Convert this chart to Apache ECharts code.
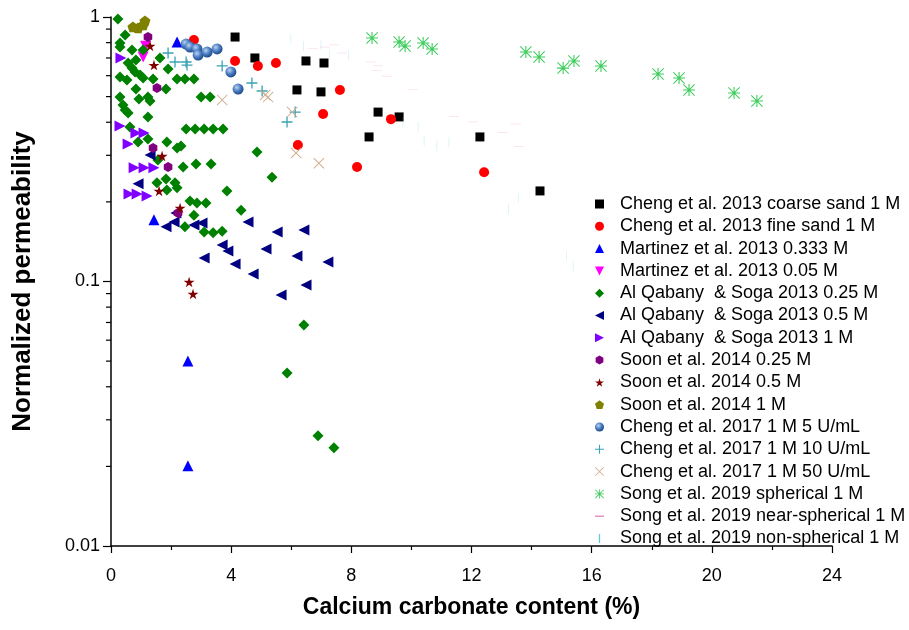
<!DOCTYPE html>
<html><head><meta charset="utf-8">
<script src="https://cdn.jsdelivr.net/npm/echarts@6/dist/echarts.min.js"></script>
<style>html,body{margin:0;padding:0;background:#fff}#c{width:909px;height:630px}</style>
</head><body><div id="c"></div>
<script>
// ---- data (x = CaCO3 content %, y = normalized permeability) ----
const chengCoarse = [[4.13,0.840],[4.79,0.700],[6.19,0.530],[6.49,0.682],[6.99,0.521],[7.09,0.670],[8.89,0.437],[8.59,0.352],[9.59,0.419],[12.28,0.352],[14.28,0.220]];
const chengFine = [[2.76,0.818],[4.13,0.682],[4.89,0.653],[5.49,0.670],[7.62,0.530],[7.06,0.430],[9.32,0.411],[6.22,0.328],[8.19,0.271],[12.42,0.259]];
const martinez333 = [[2.20,0.804],[1.43,0.171],[2.56,0.050],[2.56,0.0201]];
const martinez05 = [[1.07,0.706],[1.15,0.775]];
const alq025 = [[0.23,0.983],[0.47,0.855],[0.30,0.797],[0.30,0.770],[0.70,0.750],[1.07,0.750],[0.83,0.688],[0.57,0.670],[1.63,0.700],[0.70,0.641],[0.80,0.620],[0.97,0.604],[1.90,0.636],[0.30,0.593],[0.53,0.578],[1.07,0.588],[1.40,0.583],[2.20,0.583],[2.46,0.583],[2.76,0.583],[0.83,0.534],[1.83,0.534],[0.30,0.498],[0.93,0.490],[1.23,0.498],[1.30,0.481],[3.00,0.498],[3.30,0.498],[0.40,0.465],[0.47,0.445],[0.57,0.434],[1.23,0.419],[0.63,0.384],[2.50,0.377],[2.80,0.377],[3.10,0.377],[3.40,0.377],[3.73,0.377],[0.90,0.337],[1.23,0.346],[1.86,0.337],[2.20,0.320],[2.33,0.325],[1.56,0.288],[4.86,0.309],[2.40,0.271],[2.83,0.278],[3.33,0.278],[5.36,0.248],[1.83,0.244],[1.53,0.236],[2.13,0.236],[1.86,0.222],[2.20,0.226],[3.86,0.220],[2.63,0.2015],[2.86,0.198],[3.16,0.198],[4.33,0.186],[2.76,0.178],[2.46,0.161],[3.10,0.154],[3.40,0.153],[3.70,0.155],[6.42,0.0685],[5.86,0.0451],[6.89,0.0261],[7.42,0.0235]];
const alq05 = [[1.30,0.301],[0.90,0.234],[2.16,0.1815],[2.10,0.168],[1.83,0.161],[2.76,0.1635],[3.03,0.1665],[4.56,0.168],[5.53,0.154],[6.42,0.1565],[3.70,0.1374],[3.89,0.1304],[5.16,0.1327],[6.19,0.1249],[7.22,0.1185],[3.10,0.1227],[4.13,0.1165],[4.73,0.1068],[6.49,0.097],[5.66,0.0889]];
const alq1 = [[0.33,0.700],[0.30,0.387],[0.83,0.364],[1.10,0.364],[0.57,0.331],[0.77,0.269],[1.10,0.269],[1.43,0.269],[0.60,0.214],[0.87,0.214],[1.20,0.2105]];
const soon025 = [[1.23,0.840],[1.53,0.539],[1.40,0.320],[1.90,0.271],[2.23,0.1815]];
const soon05 = [[1.30,0.777],[1.43,0.658],[1.70,0.298],[1.60,0.220],[2.30,0.1897],[2.60,0.0996],[2.73,0.0897]];
const soon1 = [[0.73,0.917],[0.90,0.909],[1.07,0.933],[1.13,0.966]];
const cheng17u5 = [[2.50,0.790],[2.63,0.770],[2.86,0.757],[2.90,0.718],[3.20,0.737],[3.53,0.757],[3.99,0.620],[4.23,0.534]];
const cheng17u10 = [[1.90,0.731],[2.13,0.676],[2.50,0.676],[2.53,0.658],[3.70,0.653],[4.69,0.563],[5.03,0.525],[6.13,0.437],[5.86,0.401]];
const cheng17u50 = [[3.70,0.486],[5.13,0.507],[5.23,0.498],[6.03,0.437],[6.16,0.306],[6.92,0.280]];
const songSph = [[8.69,0.833],[9.59,0.804],[9.79,0.777],[10.39,0.797],[10.69,0.757],[13.81,0.737],[14.25,0.706],[15.05,0.641],[15.41,0.682],[16.31,0.653],[18.21,0.609],[18.91,0.588],[19.24,0.530],[20.74,0.516],[21.50,0.481]];
const songNear = [[6.72,0.763],[7.12,0.770],[7.42,0.784],[7.69,0.731],[8.66,0.676],[8.89,0.653],[8.85,0.630],[9.19,0.598],[10.05,0.530],[11.42,0.422],[12.05,0.401],[13.05,0.367],[13.48,0.394],[13.58,0.323]];
const songNon = [[5.99,0.826],[6.42,0.777],[6.99,0.784],[7.26,0.725],[7.92,0.718],[9.72,0.401],[10.22,0.384],[10.42,0.340],[10.85,0.325],[11.25,0.337],[13.22,0.188],[13.55,0.207],[15.15,0.125],[15.38,0.1145]];
const seriesNames = ['Cheng et al. 2013 coarse sand 1 M','Cheng et al. 2013 fine sand 1 M','Martinez et al. 2013 0.333 M','Martinez et al. 2013 0.05 M','Al Qabany  & Soga 2013 0.25 M','Al Qabany  & Soga 2013 0.5 M','Al Qabany  & Soga 2013 1 M','Soon et al. 2014 0.25 M','Soon et al. 2014 0.5 M','Soon et al. 2014 1 M','Cheng et al. 2017 1 M 5 U/mL','Cheng et al. 2017 1 M 10 U/mL','Cheng et al. 2017 1 M 50 U/mL','Song et al. 2019 spherical 1 M','Song et al. 2019 near-spherical 1 M','Song et al. 2019 non-spherical 1 M'];
const xTicks = [0,4,8,12,16,20,24];
const yMinorTicks = [0.02,0.03,0.04,0.05,0.06,0.07,0.08,0.09,0.2,0.3,0.4,0.5,0.6,0.7,0.8,0.9];

// ---- symbols ----
const TRI_UP = 'path://M50,0L100,100L0,100Z';
const TRI_DOWN = 'path://M0,0L100,0L50,100Z';
const TRI_LEFT = 'path://M0,50L100,0L100,100Z';
const TRI_RIGHT = 'path://M100,50L0,0L0,100Z';
const STAR = 'path://M50,0L61,35L98,35L68,57L79,91L50,70L21,91L32,57L2,35L39,35Z';
const HEX = 'path://M50,0L93,25L93,75L50,100L7,75L7,25Z';
const PENT = 'path://M50,0L98,36L80,94L20,94L2,36Z';
const PLUS = 'path://M4.4,0H5.6V10H4.4Z M0,4.4H10V5.6H0Z';
const XMARK = 'path://M0.6,0L10,9.4L9.4,10L0,0.6Z M9.4,0L10,0.6L0.6,10L0,9.4Z';
const ASTER = 'path://M4.55,0H5.45V10H4.55Z M0,4.55H10V5.45H0Z M0.6,0L10,9.4L9.4,10L0,0.6Z M9.4,0L10,0.6L0.6,10L0,9.4Z';
const DASH = 'path://M0,0H10V1.4H0Z';
const BAR = 'path://M0,0H1.4V10H0Z';
const sphere = {type:'radial',x:0.38,y:0.35,r:0.65,colorStops:[{offset:0,color:'#b9d3f2'},{offset:0.55,color:'#4a7cc0'},{offset:1,color:'#1e4a8a'}]};

const defs = [
  {d:chengCoarse, sym:'rect', size:9, color:'#000000'},
  {d:chengFine, sym:'circle', size:10, color:'#ff0000'},
  {d:martinez333, sym:TRI_UP, size:11, color:'#0000ff'},
  {d:martinez05, sym:TRI_DOWN, size:11, color:'#ff00ff'},
  {d:alq025, sym:'diamond', size:11, color:'#008000'},
  {d:alq05, sym:TRI_LEFT, size:11, color:'#000080'},
  {d:alq1, sym:TRI_RIGHT, size:11, color:'#8000ff'},
  {d:soon025, sym:HEX, size:10, color:'#800080'},
  {d:soon05, sym:STAR, size:11, color:'#800000'},
  {d:soon1, sym:PENT, size:11, color:'#808000'},
  {d:cheng17u5, sym:'circle', size:11, color:sphere},
  {d:cheng17u10, sym:PLUS, size:11, color:'#3aa3b5'},
  {d:cheng17u50, sym:XMARK, size:11, color:'#d2ad8c'},
  {d:songSph, sym:ASTER, size:12, color:'#3ccc5c'},
  {d:songNear, sym:DASH, size:[10,1.4], color:'#e07fb2'},
  {d:songNon, sym:BAR, size:[1.4,10], color:'#62c6dd'}
];

const series = defs.map((s,i)=>({
  name: seriesNames[i], type:'scatter', data:s.d, symbol:s.sym, symbolSize:s.size,
  symbolKeepAspect:true, itemStyle:{color:s.color, opacity:1}, emphasis:{disabled:true}, z:2+i
}));
series.push({
  type:'custom', silent:true, data: yMinorTicks.map(v=>[0,v]), z:20, clip:false,
  renderItem:(params, api)=>{
    const p = api.coord([api.value(0), api.value(1)]);
    return {type:'line', shape:{x1:p[0]-5, y1:p[1], x2:p[0], y2:p[1]}, style:{stroke:'#000', lineWidth:1.2}};
  }
});

const chart = echarts.init(document.getElementById('c'), null, {renderer:'canvas'});
chart.setOption({
  animation:false,
  backgroundColor:'#ffffff',
  grid:{left:111, right:77, top:17, bottom:84, containLabel:false},
  xAxis:{
    type:'value', min:xTicks[0], max:xTicks[xTicks.length-1], interval:4,
    name:'Calcium carbonate content (%)', nameLocation:'middle', nameGap:50,
    nameTextStyle:{fontFamily:'Liberation Sans, Arial', fontWeight:'bold', fontSize:23, color:'#000'},
    axisLine:{lineStyle:{color:'#000', width:1.5}},
    axisTick:{length:7, lineStyle:{color:'#000', width:1.2}},
    minorTick:{show:true, splitNumber:2, length:4, lineStyle:{color:'#000', width:1.2}},
    splitLine:{show:false},
    axisLabel:{fontFamily:'Liberation Sans, Arial', fontSize:18, color:'#000', margin:21}
  },
  yAxis:{
    type:'log', logBase:10, min:0.01, max:1,
    name:'Normalized permeability', nameLocation:'middle', nameGap:75,
    nameTextStyle:{fontFamily:'Liberation Sans, Arial', fontWeight:'bold', fontSize:26, color:'#000'},
    axisLine:{show:true, lineStyle:{color:'#000', width:1.5}},
    axisTick:{show:true, length:8, lineStyle:{color:'#000', width:1.2}},
    splitLine:{show:false},
    axisLabel:{fontFamily:'Liberation Sans, Arial', fontSize:18, color:'#000', margin:11,
      formatter:v=>String(v)}
  },
  legend:{
    orient:'vertical', left:590, top:190, itemWidth:9, itemHeight:9, itemGap:4.3,
    data: seriesNames, selectedMode:false,
    textStyle:{fontFamily:'Liberation Sans, Arial', fontSize:18, lineHeight:18, color:'#000', padding:[0,0,0,11]}
  },
  series: series
});
</script>
</body></html>
